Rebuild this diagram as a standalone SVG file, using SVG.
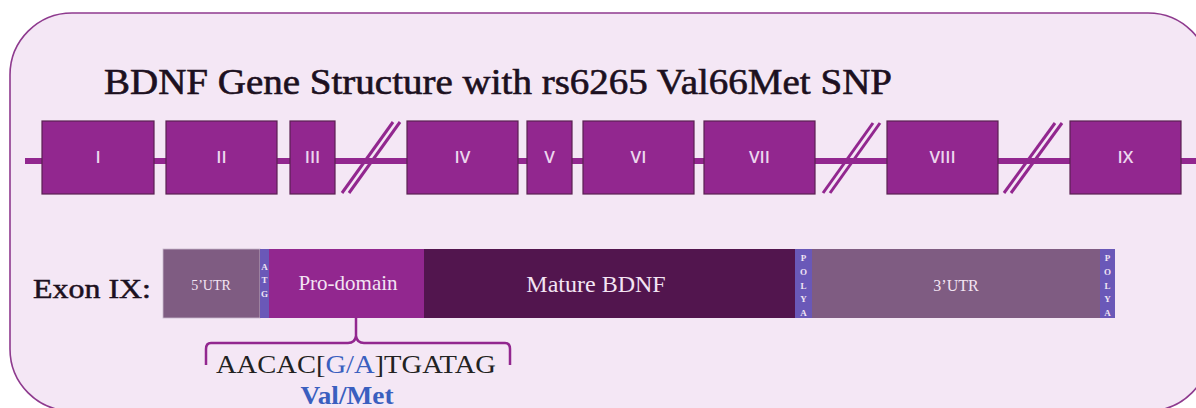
<svg xmlns="http://www.w3.org/2000/svg" width="1196" height="408" viewBox="0 0 1196 408">
<style>
.exon{fill:#92278f;stroke:#5a2152;stroke-width:1.2}
.elab{font-family:"Open Sans","DejaVu Sans",sans-serif;font-size:17px;font-weight:600;fill:#ecd6ee;text-anchor:middle}
.brk{stroke:#92278f;stroke-width:3;fill:none}
.serif{font-family:"Liberation Serif","Times New Roman",serif}
.tiny{font-family:"Liberation Serif",serif;font-size:9px;fill:#f0e4f4;text-anchor:middle;font-weight:bold}
.barlab{font-family:"Liberation Serif",serif;fill:#f3e4f3;text-anchor:middle}
</style>
<rect x="10" y="13" width="1200" height="398" rx="62" ry="62" fill="#f4e7f5" stroke="#8e3a8e" stroke-width="1.6"/>
<text class="serif" x="104" y="94" font-size="35" fill="#1c1020" stroke="#1c1020" stroke-width="0.6" textLength="788" lengthAdjust="spacingAndGlyphs">BDNF Gene Structure with rs6265 Val66Met SNP</text>
<g id="connectors">
<line x1="25" y1="161" x2="1196" y2="161" stroke="#92278f" stroke-width="6"/>
<g id="break1">
<line class="brk" x1="342" y1="193" x2="393" y2="122"/>
<line class="brk" x1="349" y1="193" x2="400" y2="122"/>
</g>
<g id="break2">
<line class="brk" x1="823" y1="193" x2="873" y2="123"/>
<line class="brk" x1="830" y1="193" x2="880" y2="123"/>
</g>
<g id="break3">
<line class="brk" x1="1004" y1="193" x2="1055" y2="123"/>
<line class="brk" x1="1011" y1="193" x2="1062" y2="123"/>
</g>
<path d="M356,318 L356,336 Q357,343 364,343 L505,343 Q510,343 510,349 L510,365 M356,336 Q355,343 348,343 L211,343 Q206,343 206,349 L206,365" fill="none" stroke="#92278f" stroke-width="2.5"/>
</g>
<g id="exon-I"><rect class="exon" x="42" y="121" width="112" height="73"/><text class="elab" x="98" y="163">I</text></g>
<g id="exon-II"><rect class="exon" x="166" y="121" width="111" height="73"/><text class="elab" x="221.5" y="163">II</text></g>
<g id="exon-III"><rect class="exon" x="290" y="121" width="45" height="73"/><text class="elab" x="312.5" y="163">III</text></g>
<g id="exon-IV"><rect class="exon" x="407" y="121" width="111" height="73"/><text class="elab" x="462.5" y="163">IV</text></g>
<g id="exon-V"><rect class="exon" x="527" y="121" width="45" height="73"/><text class="elab" x="549.5" y="163">V</text></g>
<g id="exon-VI"><rect class="exon" x="583" y="121" width="111" height="73"/><text class="elab" x="638.5" y="163">VI</text></g>
<g id="exon-VII"><rect class="exon" x="704" y="121" width="111" height="73"/><text class="elab" x="759.5" y="163">VII</text></g>
<g id="exon-VIII"><rect class="exon" x="887" y="121" width="111" height="73"/><text class="elab" x="942.5" y="163">VIII</text></g>
<g id="exon-IX"><rect class="exon" x="1070" y="121" width="111" height="73"/><text class="elab" x="1125.5" y="163">IX</text></g>
<text class="serif" x="33" y="298" font-size="28" fill="#1c1020" stroke="#1c1020" stroke-width="0.5" textLength="118" lengthAdjust="spacingAndGlyphs">Exon IX:</text>
<g id="exon9-bar">
<g id="utr5"><rect x="163" y="249" width="97" height="69" fill="#7f5c82" stroke="#c8b8cc" stroke-width="0.8"/><text class="barlab" x="211" y="290" font-size="14">5’UTR</text></g>
<g id="atg"><rect x="260" y="249" width="9" height="69" fill="#6a58b8"/><text class="tiny" x="264.5" y="270">A</text><text class="tiny" x="264.5" y="283">T</text><text class="tiny" x="264.5" y="297">G</text></g>
<g id="prodomain"><rect x="269" y="249" width="155" height="69" fill="#92278f"/><text class="barlab" x="348" y="290" font-size="21">Pro-domain</text></g>
<g id="mature"><rect x="424" y="249" width="371" height="69" fill="#52154e"/><text class="barlab" x="596" y="292" font-size="24">Mature BDNF</text></g>
<g id="polya1"><rect x="795" y="249" width="17" height="69" fill="#6a58b8"/><text class="tiny" x="803.5" y="261">P</text><text class="tiny" x="803.5" y="275">O</text><text class="tiny" x="803.5" y="289">L</text><text class="tiny" x="803.5" y="302">Y</text><text class="tiny" x="803.5" y="316">A</text></g>
<g id="utr3"><rect x="812" y="249" width="288" height="69" fill="#7f5c82"/><text class="barlab" x="956" y="291" font-size="16">3’UTR</text></g>
<g id="polya2"><rect x="1100" y="249" width="15" height="69" fill="#6a58b8"/><text class="tiny" x="1107.5" y="261">P</text><text class="tiny" x="1107.5" y="275">O</text><text class="tiny" x="1107.5" y="289">L</text><text class="tiny" x="1107.5" y="302">Y</text><text class="tiny" x="1107.5" y="316">A</text></g>
</g>
<g id="snp">
<text class="serif" x="216" y="373" font-size="25" fill="#222" textLength="280" lengthAdjust="spacingAndGlyphs">AACAC[<tspan fill="#3a5fbf">G/A</tspan>]TGATAG</text>
<text class="serif" x="347" y="404" font-size="26" fill="#3a5fbf" font-weight="bold" text-anchor="middle" textLength="93" lengthAdjust="spacingAndGlyphs">Val/Met</text>
</g>
</svg>
